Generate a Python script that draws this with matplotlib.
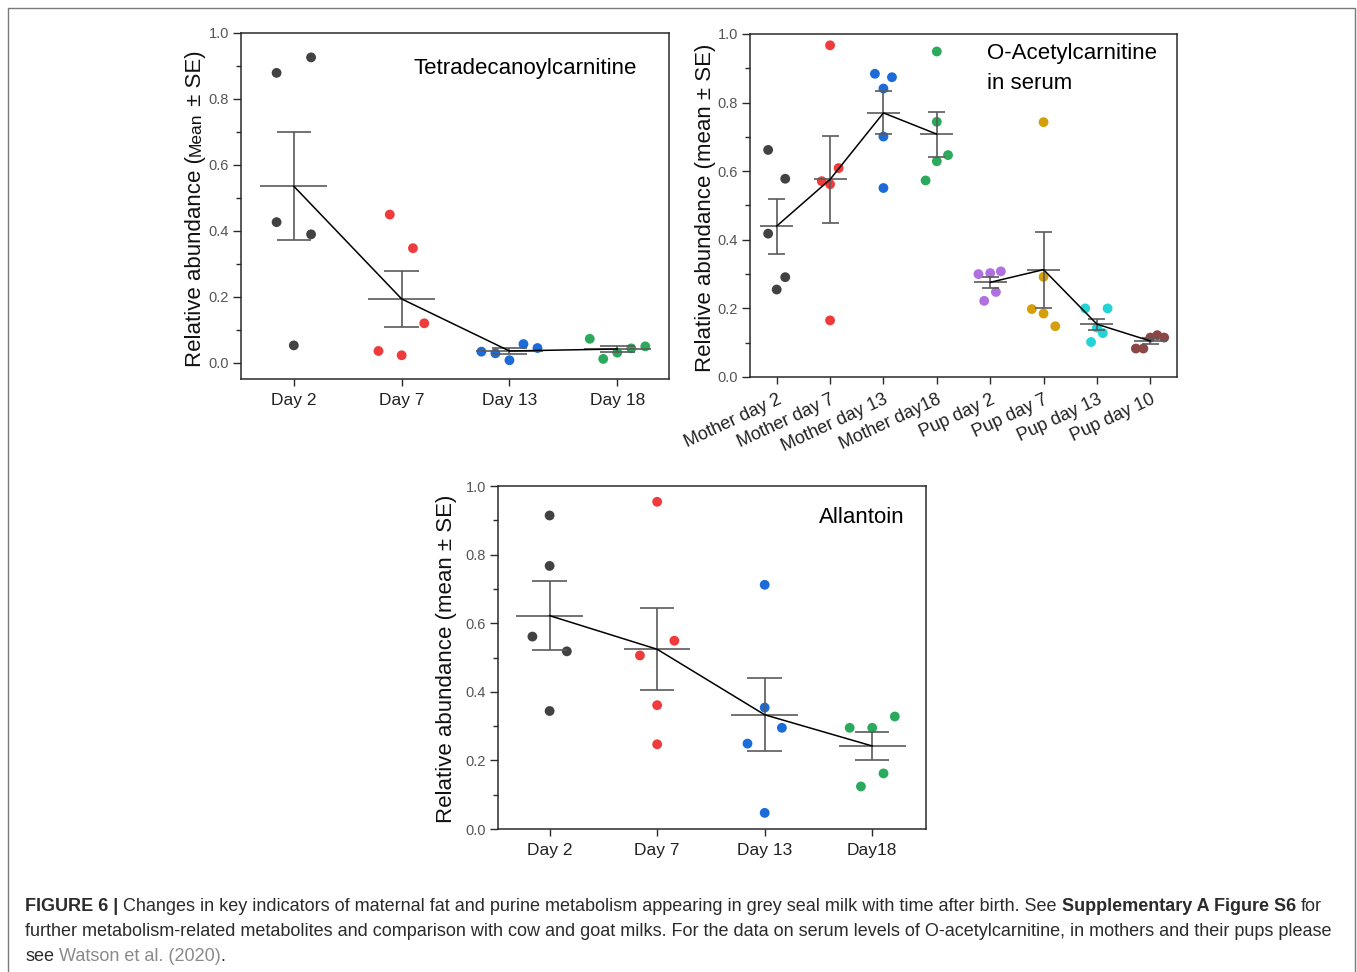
import matplotlib
matplotlib.use('Agg')
import matplotlib.pyplot as plt
from matplotlib.lines import Line2D
from matplotlib.ticker import MultipleLocator
import numpy as np

plt.rcParams['font.family'] = ['Liberation Sans', 'DejaVu Sans']

W, H = 1357, 972

# ---- data ----
milk_days = ['Day 2', 'Day 7', 'Day 13', 'Day 18']
milk_days_b = ['Day 2', 'Day 7', 'Day 13', 'Day18']
serum_groups = ['Mother day 2', 'Mother day 7', 'Mother day 13', 'Mother day18',
                'Pup day 2', 'Pup day 7', 'Pup day 13', 'Pup day 10']

# Tetradecanoylcarnitine (milk)
tetra_vals = [[0.879, 0.926, 0.426, 0.389, 0.052],
              [0.449, 0.347, 0.119, 0.035, 0.022],
              [0.033, 0.028, 0.007, 0.056, 0.044],
              [0.072, 0.011, 0.030, 0.043, 0.049]]
tetra_mean = [0.535, 0.193, 0.035, 0.041]
tetra_se = [0.164, 0.086, 0.008, 0.010]

# O-Acetylcarnitine (serum)
acetyl_vals = [[0.662, 0.578, 0.418, 0.291, 0.255],
               [0.967, 0.571, 0.609, 0.562, 0.165],
               [0.884, 0.874, 0.841, 0.701, 0.551],
               [0.949, 0.744, 0.647, 0.629, 0.573],
               [0.300, 0.303, 0.308, 0.248, 0.222],
               [0.743, 0.292, 0.198, 0.185, 0.148],
               [0.200, 0.200, 0.144, 0.128, 0.102],
               [0.083, 0.083, 0.115, 0.122, 0.115]]
acetyl_mean = [0.440, 0.576, 0.770, 0.708, 0.276, 0.313, 0.154, 0.105]
acetyl_se = [0.080, 0.127, 0.063, 0.066, 0.016, 0.111, 0.016, 0.008]

# Allantoin (milk)
allan_vals = [[0.914, 0.767, 0.561, 0.518, 0.344],
              [0.954, 0.549, 0.506, 0.361, 0.247],
              [0.712, 0.354, 0.295, 0.249, 0.047],
              [0.295, 0.295, 0.328, 0.162, 0.124]]
allan_mean = [0.622, 0.524, 0.333, 0.242]
allan_se = [0.100, 0.120, 0.107, 0.041]

# horizontal jitter of the dots (positions, not data)
tetra_jit = [[-0.16, 0.16, -0.16, 0.16, 0.0],
             [-0.11, 0.105, 0.21, -0.215, 0.0],
             [-0.26, -0.13, 0.0, 0.13, 0.26],
             [-0.255, -0.13, 0.0, 0.13, 0.26]]
acetyl_jit = [[-0.16, 0.16, -0.16, 0.16, 0.0],
              [0.0, -0.155, 0.16, 0.0, 0.0],
              [-0.16, 0.16, 0.0, 0.0, 0.0],
              [0.0, 0.0, 0.21, 0.0, -0.21],
              [-0.22, 0.0, 0.2, 0.107, -0.112],
              [0.0, 0.0, -0.22, 0.0, 0.22],
              [-0.22, 0.2, 0.0, 0.11, -0.11],
              [-0.27, -0.13, 0.0, 0.13, 0.26]]
allan_jit = [[0.0, 0.0, -0.16, 0.16, 0.0],
             [0.0, 0.16, -0.16, 0.0, 0.0],
             [0.0, 0.0, 0.16, -0.16, 0.0],
             [-0.21, 0.0, 0.21, 0.105, -0.105]]

milk_colors = ['#424242', '#ef3b3b', '#1b6bd8', '#2baa5e']
serum_colors = ['#424242', '#ef3b3b', '#1b6bd8', '#2baa5e',
                '#b070e0', '#d49f0a', '#22d4d6', '#8c4646']

ERR = '#5a5a5a'


def px_axes(l, t, r, b):
    return [l / W, 1 - b / H, (r - l) / W, (b - t) / H]


def panel(ax, vals, jit, means, ses, colors, segments):
    pos = np.arange(1, len(vals) + 1)
    for i, (v, j) in enumerate(zip(vals, jit)):
        ax.scatter(pos[i] + np.array(j), v, s=50, color=colors[i],
                   edgecolors='none', zorder=2)
    means = np.array(means)
    ses = np.array(ses)
    ax.hlines(means, pos - 0.31, pos + 0.31, color=ERR, lw=1.2, zorder=3)
    ax.vlines(pos, means - ses, means + ses, color=ERR, lw=1.2, zorder=3)
    ax.hlines(means - ses, pos - 0.16, pos + 0.16, color=ERR, lw=1.2, zorder=3)
    ax.hlines(means + ses, pos - 0.16, pos + 0.16, color=ERR, lw=1.2, zorder=3)
    for a, b in segments:
        ax.plot(pos[a:b], means[a:b], color='black', lw=1.1, zorder=4)
    ax.set_xticks(pos)
    ax.yaxis.set_major_locator(MultipleLocator(0.2))
    ax.yaxis.set_minor_locator(MultipleLocator(0.1))
    ax.yaxis.set_major_formatter(matplotlib.ticker.FormatStrFormatter('%.1f'))
    for s in ax.spines.values():
        s.set_linewidth(1.1)
        s.set_color('#2a2a2a')
    ax.tick_params(axis='y', which='major', length=5.5, width=1.0, color='#2a2a2a',
                   labelsize=10.5, labelcolor='#555555', pad=3)
    ax.tick_params(axis='y', which='minor', length=3.5, width=1.0, color='#2a2a2a')
    ax.tick_params(axis='x', length=5, width=1.0, color='#2a2a2a',
                   labelsize=12.5, labelcolor='#222222', pad=5)


def vlabel(fig, x, y, runs):
    # runs of (text, size) placed bottom-to-top along a rotated baseline
    r = fig.canvas.get_renderer()
    cur = y
    for txt, size in runs:
        t = fig.text(x / W, 1 - cur / H, txt, fontsize=size, rotation=90,
                     rotation_mode='anchor', ha='left', va='baseline', color='#111111')
        cur -= t.get_window_extent(r).height
    return cur


fig = plt.figure(figsize=(W / 100, H / 100), dpi=100)
renderer = fig.canvas.get_renderer()

# panel A: Tetradecanoylcarnitine
ax1 = fig.add_axes(px_axes(241, 33, 669, 379))
panel(ax1, tetra_vals, tetra_jit, tetra_mean, tetra_se, milk_colors, [(0, 4)])
ax1.set_xlim(0.51, 4.48)
ax1.set_ylim(-0.05, 1.0)
ax1.set_xticklabels(milk_days)
ax1.text(0.925, 0.898, 'Tetradecanoylcarnitine', transform=ax1.transAxes,
         ha='right', va='center', fontsize=16)

# panel B: O-Acetylcarnitine in serum
ax2 = fig.add_axes(px_axes(750, 34, 1177, 377))
panel(ax2, acetyl_vals, acetyl_jit, acetyl_mean, acetyl_se, serum_colors, [(0, 4), (4, 8)])
ax2.set_xlim(0.5, 8.5)
ax2.set_ylim(0.0, 1.0)
ax2.set_xticklabels(serum_groups, rotation=25, ha='right', rotation_mode='anchor',
                    fontsize=13)
ax2.text(0.555, 0.942, 'O-Acetylcarnitine', transform=ax2.transAxes,
         ha='left', va='center', fontsize=16)
ax2.text(0.555, 0.857, 'in serum', transform=ax2.transAxes,
         ha='left', va='center', fontsize=16)

# panel C: Allantoin
ax3 = fig.add_axes(px_axes(498, 486, 926, 829))
panel(ax3, allan_vals, allan_jit, allan_mean, allan_se, milk_colors, [(0, 4)])
ax3.set_xlim(0.52, 4.5)
ax3.set_ylim(0.0, 1.0)
ax3.set_xticklabels(milk_days_b)
ax3.text(0.949, 0.907, 'Allantoin', transform=ax3.transAxes,
         ha='right', va='center', fontsize=16)

# y labels
vlabel(fig, 201, 367, [('Relative abundance (', 16), ('Mean', 12.5), (' \u00b1 SE)', 16)])
vlabel(fig, 711, 372, [('Relative abundance (mean \u00b1 SE)', 16)])
vlabel(fig, 452, 823, [('Relative abundance (mean \u00b1 SE)', 16)])

# caption
cap_size = 13
cap_col = '#2b2b2b'


def space_w(weight):
    a = fig.text(0, 0, 'x x', fontsize=cap_size, fontweight=weight)
    b = fig.text(0, 0, 'xx', fontsize=cap_size, fontweight=weight)
    w = a.get_window_extent(renderer).width - b.get_window_extent(renderer).width
    a.remove()
    b.remove()
    return w


sp = space_w('normal')
caption = [
    [('FIGURE 6 |', 'bold', cap_col, True),
     ('Changes in key indicators of maternal fat and purine metabolism appearing in '
      'grey seal milk with time after birth. See', 'normal', cap_col, True),
     ('Supplementary A Figure S6', 'bold', cap_col, True),
     ('for', 'normal', cap_col, True)],
    [('further metabolism-related metabolites and comparison with cow and goat milks. '
      'For the data on serum levels of O-acetylcarnitine, in mothers and their pups please',
      'normal', cap_col, True)],
    [('see', 'normal', cap_col, True),
     ('Watson et al. (2020)', 'normal', '#8a8a8a', False),
     ('.', 'normal', cap_col, True)],
]
baselines = [911, 936, 961]
for line, yb in zip(caption, baselines):
    x = 25
    for k, (txt, weight, col, gap_after) in enumerate(line):
        t = fig.text(x / W, 1 - yb / H, txt, fontsize=cap_size, fontweight=weight,
                     color=col, ha='left', va='baseline')
        x += t.get_window_extent(renderer).width
        if gap_after and k < len(line) - 1:
            x += sp

# outer frame of the figure page
fig.add_artist(Line2D([8 / W, 8 / W, 1355 / W, 1355 / W],
                      [0, 1 - 8 / H, 1 - 8 / H, 0],
                      transform=fig.transFigure, color='#7a7a7a', lw=1.0))

fig.savefig('out.png', dpi=100)
